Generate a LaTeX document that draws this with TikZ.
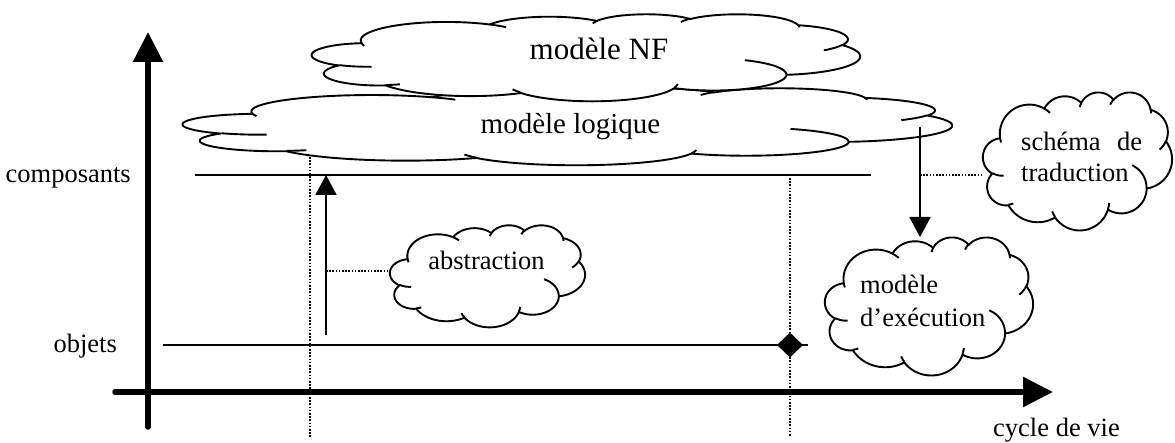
\documentclass[tikz,border=0pt]{standalone}
\usepackage{fontspec}
\setmainfont{Liberation Serif}
\usetikzlibrary{arrows.meta,shapes.geometric}

% ---------------------------------------------------------------
% Cloud outline on a 432 x 432 grid, built from elliptical arcs.
% Each arc: x radius, y radius, start angle, sweep (angles are the
% directions seen from the arc centre, clockwise on screen).
% ---------------------------------------------------------------
\makeatletter
\let\cldt\relax
\def\cld@x{0}\def\cld@y{0}
\newcommand\cldmove[3]{%
  \xdef\cld@x{#2}\xdef\cld@y{#3}%
  \xdef#1{#1 (#2,#3)}}
\newcommand\cldarc[5]{%
  \pgfmathsetmacro\cld@ts{atan2((#2)*sin(#4),(#3)*cos(#4))}%
  \pgfmathsetmacro\cld@te{atan2((#2)*sin((#4)+(#5)),(#3)*cos((#4)+(#5)))}%
  \pgfmathsetmacro\cld@te{((#5)>0)*((\cld@te)+360*ceil(((\cld@ts)-(\cld@te))/360))+((#5)<0)*((\cld@te)-360*ceil(((\cld@te)-(\cld@ts))/360))}%
  \pgfmathsetmacro\cld@cx{(\cld@x)-(#2)*cos(\cld@ts)}%
  \pgfmathsetmacro\cld@cy{(\cld@y)-(#3)*sin(\cld@ts)}%
  \pgfmathsetmacro\cld@dt{(\cld@te)-(\cld@ts)}%
  \xdef#1{#1 -- plot[domain=0:1,samples=24,variable=\cldt] ({\cld@cx+(#2)*cos(\cld@ts+(\cld@dt)*\cldt)},{\cld@cy+(#3)*sin(\cld@ts+(\cld@dt)*\cldt)})}%
  \pgfmathsetmacro\cld@nx{(\cld@cx)+(#2)*cos(\cld@te)}%
  \pgfmathsetmacro\cld@ny{(\cld@cy)+(#3)*sin(\cld@te)}%
  \xdef\cld@x{\cld@nx}\xdef\cld@y{\cld@ny}}
\makeatother

% closed outline
\gdef\cldouter{}
\cldmove\cldouter{39.00}{143.70}
\cldarc\cldouter{67.53}{91.90}{-190.48748}{123.78053}
\cldarc\cldouter{53.33}{72.67}{-144.10238}{89.94523}
\cldarc\cldouter{43.65}{59.45}{-145.80792}{99.72302}
\cldarc\cldouter{48.57}{65.95}{-130.98607}{117.24173}
\cldarc\cldouter{53.33}{72.73}{-78.70888}{109.02692}
\cldarc\cldouter{67.75}{92.20}{-46.26725}{130.26900}
\cldarc\cldouter{57.85}{78.67}{0.62502}{114.03333}
\cldarc\cldouter{67.52}{92.15}{22.45160}{115.17255}
\cldarc\cldouter{77.20}{105.43}{66.24263}{75.71102}
\cldarc\cldouter{43.60}{59.18}{-274.94208}{146.73557}
\cldarc\cldouter{43.45}{59.45}{-246.82850}{152.51885}

% short inner folds between the puffs
\gdef\cldinner{}
\cldmove\cldinner{46.93}{261.77}\cldarc\cldinner{43.45}{59.45}{86.74200}{26.42950}
\cldmove\cldinner{69.28}{348.99}\cldarc\cldinner{43.60}{59.18}{73.61047}{11.44747}
\cldmove\cldinner{164.78}{390.90}\cldarc\cldinner{67.52}{92.15}{137.62415}{14.08110}
\cldmove\cldinner{288.27}{347.51}\cldarc\cldinner{67.52}{92.15}{6.45327}{15.99835}
\cldmove\cldinner{341.29}{229.54}\cldarc\cldinner{57.85}{78.67}{-70.29235}{70.91737}
\cldmove\cldinner{417.98}{153.54}\cldarc\cldinner{53.33}{72.73}{30.31803}{27.75150}
\cldmove\cldinner{383.24}{54.26}\cldarc\cldinner{48.57}{65.95}{-13.74433}{14.85890}
\cldmove\cldinner{290.78}{39.52}\cldarc\cldinner{48.57}{65.95}{-149.18145}{18.19537}
\cldmove\cldinner{221.41}{47.20}\cldarc\cldinner{43.65}{59.45}{-163.49427}{17.68635}
\cldmove\cldinner{140.00}{51.92}\cldarc\cldinner{67.53}{91.90}{-66.70695}{12.31935}
\cldmove\cldinner{41.27}{157.89}\cldarc\cldinner{67.53}{91.90}{157.65435}{11.85817}

% a cloud filling the box with top-left corner (#2,#3), width #4, height #5
\newcommand\drawcloud[5]{%
  \node[cloudframe, anchor=north west, minimum width=#4pt, minimum height=#5pt] (#1) at (#2,#3) {};
  \begin{scope}[shift={(#2,#3)}, xscale=#4/432, yscale=#5/432]
    \draw[cloudline, fill=white] \cldouter -- cycle;
    \draw[cloudline] \cldinner;
  \end{scope}}

\begin{document}
\begin{tikzpicture}[x=1pt, y=-1pt,
  axis/.style={line width=5.5pt, line cap=round, -{Triangle[length=30pt,width=29pt]}},
  levelline/.style={line width=2pt},
  guide/.style={line width=1.6pt, dash pattern=on 1.6pt off 1.6pt},
  thinarrow/.style={line width=2pt, -{Triangle[length=20pt,width=21pt]}},
  cloudline/.style={line width=1.9pt, line join=round},
  cloudframe/.style={draw=none, inner sep=0pt, outer sep=0pt, rectangle},
  lbl/.style={inner sep=0pt, font=\fontsize{26.5pt}{31pt}\selectfont},
]
\useasboundingbox (0,0) rectangle (1175,443);

% axes
\coordinate (yaS) at (148,427);
\coordinate (yaE) at (148,32);
\coordinate (xaS) at (115,392);
\coordinate (xaE) at (1053,392);
\draw[axis] (yaS) -- (yaE);
\draw[axis] (xaS) -- (xaE);

% vertical guides
\coordinate (g1T) at (310,157);
\coordinate (g1B) at (310,437);
\coordinate (g2T) at (790,178);
\coordinate (g2B) at (790,437);
\draw[guide] (g1T) -- (g1B);
\draw[guide] (g2T) -- (g2B);

% levels
\coordinate (compL) at (195,175);
\coordinate (compR) at (871,175);
\coordinate (objL) at (163,345);
\coordinate (objR) at (808,345);
\draw[levelline] (compL) -- (compR);
\draw[levelline] (objL) -- (objR);

% clouds
\drawcloud{logc}{183}{88}{769}{77}
\drawcloud{nfc}{312}{14}{548}{87}
\drawcloud{absc}{390}{225}{195}{102}
\drawcloud{schc}{983}{92}{189}{138}
\drawcloud{exec}{825}{237}{208}{138}

% abstraction arrow and its note
\coordinate (absS) at (326,335);
\coordinate (absE) at (326,175);
\coordinate (absM) at (326,271);
\draw[thinarrow] (absS) -- (absE);
\draw[guide] (absM) -- (absM -| absc.west);

% arrow down to the execution model and its note
\coordinate (exeS) at (920,127);
\coordinate (exeM) at (920,175);
\draw[thinarrow] (exeS) -- (exeS |- exec.north);
\draw[guide] (exeM) -- (exeM -| schc.west);

% marker on the object level
\node[diamond, fill=black, inner sep=0pt, minimum width=26pt, minimum height=25pt] (mk) at (790,345) {};

% texts
\node[lbl, anchor=base east] (lcomp) at (131,183) {composants};
\node[lbl, anchor=base east] (lobj) at (117,353) {objets};
\node[lbl, anchor=base west] (lcyc) at (993,436) {cycle de vie};
\node[lbl, font=\fontsize{31pt}{36pt}\selectfont, anchor=base] (tnf) at (599,60) {modèle NF};
\node[lbl, font=\fontsize{29pt}{34pt}\selectfont, anchor=base] (tlog) at (570.5,134) {modèle logique};
\node[lbl, anchor=base] (tabs) at (486.5,270) {abstraction};
\node[lbl, anchor=base west] (tsch1) at (1021,151) {schéma\hspace{16.5pt}de};
\node[lbl, anchor=base west] (tsch2) at (1021,182) {traduction};
\node[lbl, anchor=base west] (texe1) at (860,294) {modèle};
\node[lbl, anchor=base west] (texe2) at (860,327) {d’exécution};
\end{tikzpicture}
\end{document}
